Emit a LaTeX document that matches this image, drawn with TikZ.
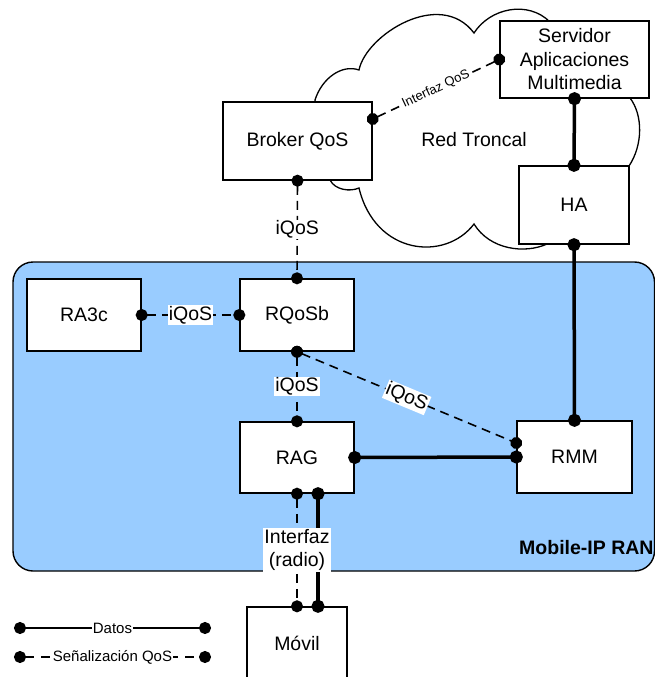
\documentclass[tikz,border=0pt]{standalone}
\usepackage{fontspec}
\setmainfont{Liberation Sans}
\usetikzlibrary{arrows.meta}
\definecolor{ranblue}{RGB}{153,204,255}

\begin{document}
\begin{tikzpicture}[x=1pt, y=-1pt, font=\fontsize{19.5}{23.5}\selectfont,
  every node/.style={align=center},
  box/.style={draw, fill=white, line width=1.4pt, inner sep=0pt},
  datos/.style={line width=3.5pt, {Circle[length=13pt]}-{Circle[length=13pt]}, shorten <=-6.5pt, shorten >=-6.5pt},
  senal/.style={line width=1.6pt, dash pattern=on 9pt off 6pt, {Circle[length=12pt]}-{Circle[length=12pt]}, shorten <=-6pt, shorten >=-6pt},
  legdatos/.style={line width=2pt, {Circle[length=12pt]}-{Circle[length=12pt]}, shorten <=-6pt, shorten >=-6pt},
  tag/.style={fill=white, inner sep=1pt},
  small/.style={font=\fontsize{15}{18}\selectfont}]
\useasboundingbox (0,0) rectangle (655,677);
% nube de la red troncal
\draw[line width=1.3pt, fill=white] (320,130) -- (315,100) .. controls (322,78) and (342,64) .. (359,70)
  .. controls (366,35) and (440,-12) .. (474,33) .. controls (490,8) and (528,0) .. (550,22)
  -- (630,98) .. controls (643,115) and (643,145) .. (629,166) -- (547,244)
  .. controls (525,254) and (490,250) .. (474,224) .. controls (445,262) and (375,255) .. (359,188)
  .. controls (350,192) and (335,190) .. (330,180) -- cycle;
% zona Mobile-IP RAN
\draw[line width=1.4pt, fill=ranblue, rounded corners=20pt] (13,262) rectangle (654.5,571);
\node[font=\fontsize{19.5}{23.5}\selectfont\bfseries, anchor=west, inner sep=0pt] (RAN) at (519,548) {Mobile-IP RAN};
\node (RT) at (474,140) {Red Troncal};
% equipos
\node[box, minimum width=149pt, minimum height=77pt] (SRV) at (574.5,59.5) {Servidor\\Aplicaciones\\Multimedia};
\node[box, minimum width=149pt, minimum height=78pt] (BRK) at (297.5,141) {Broker QoS};
\node[box, minimum width=110pt, minimum height=78pt] (HA) at (574,205) {HA};
\node[box, minimum width=114pt, minimum height=72pt] (RA3c) at (84,315) {RA3c};
\node[box, minimum width=114pt, minimum height=72pt] (RQoSb) at (297,315) {RQoSb};
\node[box, minimum width=114pt, minimum height=71pt] (RAG) at (297,457.5) {RAG};
\node[box, minimum width=115pt, minimum height=72pt] (RMM) at (574.5,457) {RMM};
\node[box, minimum width=100pt, minimum height=72pt] (MOV) at (297,643) {Móvil};
% enlaces
\draw[senal] ([yshift=22pt]BRK.east) -- node[tag, sloped, font=\fontsize{13}{15}\selectfont]{Interfaz QoS} (SRV.west);
\draw[senal] (BRK.south) -- node[tag]{iQoS} (RQoSb.north);
\draw[senal] (RA3c.east) -- node[tag]{iQoS} (RQoSb.west);
\draw[senal] (RQoSb.south) -- node[tag]{iQoS} (RAG.north);
\draw[senal] (RQoSb.south) -- node[tag, sloped]{iQoS} ([yshift=14pt]RMM.west);
\draw[datos] (SRV.south) -- (HA.north);
\draw[datos] (HA.south) -- (RMM.north);
\draw[datos] (RAG.east) -- (RMM.west);
\draw[datos] ([xshift=21pt]RAG.south) -- ([xshift=21pt]MOV.north);
\draw[senal] (RAG.south) -- node[tag]{Interfaz\\(radio)} (MOV.north);
% leyenda
\coordinate (d1) at (20,628); \coordinate (d2) at (205,628);
\coordinate (s1) at (20,657); \coordinate (s2) at (205,657);
\draw[legdatos] (d1) -- node[tag, small]{Datos} (d2);
\draw[legdatos, dash pattern=on 9pt off 7pt] (s1) -- node[tag, small]{Señalización QoS} (s2);
\end{tikzpicture}
\end{document}
